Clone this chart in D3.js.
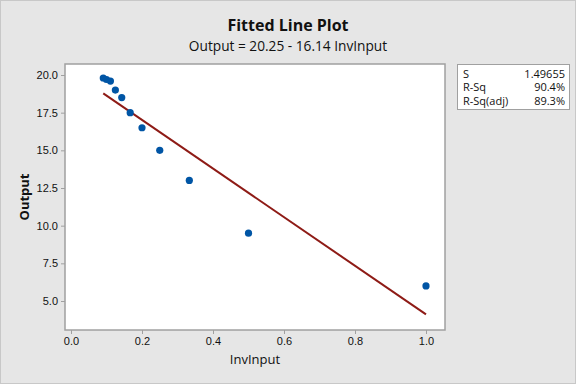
<!DOCTYPE html>
<html>
<head>
<meta charset="utf-8">
<script src="https://cdn.jsdelivr.net/npm/d3@7"></script>
<style>
  body { margin: 0; }
  svg { display: block; font-family: "Open Sans", "Noto Sans", sans-serif; }
</style>
</head>
<body>
<svg width="576" height="384"></svg>
<script>
// data
const invInput = [0.0909, 0.1, 0.1111, 0.125, 0.1429, 0.1667, 0.2, 0.25, 0.3333, 0.5, 1.0];
const output = [19.8, 19.7, 19.6, 19.0, 18.5, 17.5, 16.5, 15.0, 13.0, 9.5, 6.0];
const fit = { b0: 20.25, b1: -16.14 };
const xTicks = [0, 0.2, 0.4, 0.6, 0.8, 1.0];
const yTicks = [5, 7.5, 10, 12.5, 15, 17.5, 20];
const statLabels = ['S', 'R-Sq', 'R-Sq(adj)'];
const statValues = ['1.49655', '90.4%', '89.3%'];

const svg = d3.select('svg');
const W = 576, H = 384;
const plot = { left: 65, right: 445, top: 64, bottom: 330 };

svg.append('rect').attr('x', 0.5).attr('y', 0.5)
  .attr('width', W - 1).attr('height', H - 1)
  .attr('fill', '#e6e6e6').attr('stroke', '#c8c8c8');

const x = d3.scaleLinear().domain([0, 1]).range([71, 426]);
const y = d3.scaleLinear().domain([5, 20]).range([301, 75]);

svg.append('rect')
  .attr('x', plot.left).attr('y', plot.top)
  .attr('width', plot.right - plot.left).attr('height', plot.bottom - plot.top)
  .attr('fill', '#fff').attr('stroke', '#a0a0a0').attr('stroke-width', 1.5);

const xAxis = svg.append('g')
  .attr('transform', `translate(0,${plot.bottom})`)
  .call(d3.axisBottom(x).tickValues(xTicks).tickFormat(d3.format('.1f')).tickSizeOuter(0).tickSize(4));
const yAxis = svg.append('g')
  .attr('transform', `translate(${plot.left},0)`)
  .call(d3.axisLeft(y).tickValues(yTicks).tickFormat(d3.format('.1f')).tickSizeOuter(0).tickSize(4));

[xAxis, yAxis].forEach(a => {
  a.select('.domain').remove();
  a.selectAll('line').attr('stroke', '#a0a0a0');
  a.selectAll('text').attr('fill', '#111').style('font-size', '11px');
});

// fitted line
const x0 = d3.min(invInput), x1 = d3.max(invInput);
svg.append('line')
  .attr('x1', x(x0)).attr('y1', y(fit.b0 + fit.b1 * x0))
  .attr('x2', x(x1)).attr('y2', y(fit.b0 + fit.b1 * x1))
  .attr('stroke', '#8e1b16').attr('stroke-width', 2);

svg.append('g').selectAll('circle')
  .data(invInput)
  .enter().append('circle')
  .attr('cx', d => x(d))
  .attr('cy', (d, i) => y(output[i]))
  .attr('r', 3.6)
  .attr('fill', '#0055a5');

// titles
svg.append('text').attr('x', 288).attr('y', 31).attr('text-anchor', 'middle')
  .style('font-size', '16px').style('font-weight', 'bold').attr('fill', '#111')
  .text('Fitted Line Plot');
svg.append('text').attr('x', 288).attr('y', 51).attr('text-anchor', 'middle')
  .style('font-size', '13.7px').style('font-weight', 500).attr('fill', '#111')
  .text('Output = 20.25 - 16.14 InvInput');
svg.append('text').attr('x', 255).attr('y', 364).attr('text-anchor', 'middle')
  .style('font-size', '13px').attr('fill', '#111')
  .text('InvInput');
svg.append('text').attr('transform', 'translate(29,197) rotate(-90)').attr('text-anchor', 'middle')
  .style('font-size', '13px').style('font-weight', 'bold').attr('fill', '#111')
  .text('Output');

// stats box
const box = svg.append('g');
box.append('rect').attr('x', 457.5).attr('y', 64.5).attr('width', 112).attr('height', 45)
  .attr('fill', '#fff').attr('stroke', '#a0a0a0');
statLabels.forEach((s, i) => {
  box.append('text').attr('x', 463).attr('y', 77.5 + i * 13.5)
    .style('font-size', '11px').style('font-weight', 500).attr('fill', '#111').text(s);
  box.append('text').attr('x', 565).attr('y', 77.5 + i * 13.5).attr('text-anchor', 'end')
    .style('font-size', '11px').style('font-weight', 500).attr('fill', '#111').text(statValues[i]);
});
</script>
</body>
</html>
